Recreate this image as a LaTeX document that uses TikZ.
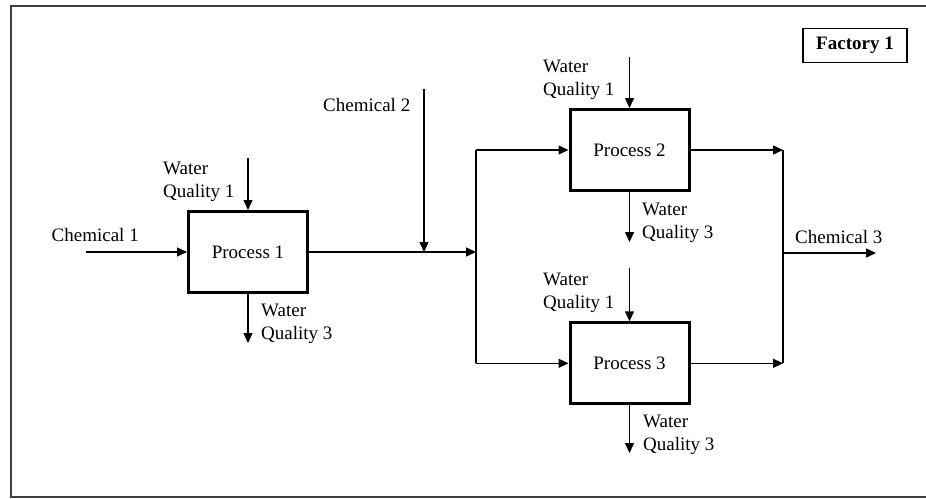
\documentclass[tikz,border=0pt]{standalone}
\usepackage{fontspec}
\setmainfont{Liberation Serif}
\usetikzlibrary{arrows.meta}
\tikzset{
  flow/.style={line width=1.4pt, -{Triangle[length=10pt,width=9pt]}},
  wire/.style={line width=1.4pt},
  procbox/.style={draw, line width=3pt, minimum width=119pt, minimum height=81pt, inner sep=0pt},
  lbl/.style={inner sep=0pt, anchor=west, align=left, font=\fontsize{19}{23}\selectfont},
}
\begin{document}
\begin{tikzpicture}[x=1pt, y=-1pt]
  \useasboundingbox (0,0) rectangle (926,498);
  % outer frame (right edge runs off the page)
  \draw[line width=2pt, black!75] (930,5.5) -- (11,5.5) -- (11,497) -- (930,497);

  % title box
  \node[draw, line width=1.4pt, minimum width=104pt, minimum height=34pt, inner sep=0pt,
        font=\fontsize{19}{22}\selectfont\bfseries] (title) at (855,45.5) {Factory 1};

  % process boxes
  \node[procbox, font=\fontsize{19}{23}\selectfont] (p1) at (248,252) {Process 1};
  \node[procbox, font=\fontsize{19}{23}\selectfont] (p2) at (629.5,150) {Process 2};
  \node[procbox, font=\fontsize{19}{23}\selectfont] (p3) at (629.5,363.3) {Process 3};

  % free ends and junctions
  \coordinate (c1) at (86,252);
  \coordinate (w1a) at (248,158);
  \coordinate (w3a) at (248,343);
  \coordinate (c2) at (424,89);
  \coordinate (mix) at (424,252);
  \coordinate (j1) at (476,252);
  \coordinate (jt) at (476,150);
  \coordinate (jb) at (476,363.3);
  \coordinate (w1b) at (629.5,57);
  \coordinate (w3b) at (629.5,242);
  \coordinate (w1c) at (629.5,268);
  \coordinate (w3c) at (629.5,453);
  \coordinate (kt) at (783,150);
  \coordinate (kb) at (783,363.3);
  \coordinate (km) at (783,253);
  \coordinate (c3) at (876,253);

  % labels
  \node[lbl] (lc1) at (51.5,235) {Chemical 1};
  \node[lbl] (lw1a) at (163,181.5) {Water\\Quality 1};
  \node[lbl] (lw3a) at (261,324) {Water\\Quality 3};
  \node[lbl] (lc2) at (323,105) {Chemical 2};
  \node[lbl] (lw1b) at (543,80) {Water\\Quality 1};
  \node[lbl] (lw3b) at (642,222.5) {Water\\Quality 3};
  \node[lbl] (lw1c) at (543,292.5) {Water\\Quality 1};
  \node[lbl] (lw3c) at (643,435) {Water\\Quality 3};
  \node[lbl] (lc3) at (795,236.5) {Chemical 3};

  % Process 1
  \draw[flow] (c1) -- (p1);
  \draw[flow] (w1a) -- (p1.north);
  \draw[flow] (p1.south) -- (w3a);
  \draw[flow] (p1.east) -- (j1);
  \draw[flow] (c2) -- (mix);

  % split to the parallel processes
  \draw[wire] (jt) -- (jb);
  \draw[flow] (jt) -- (p2.west);
  \draw[flow] (jb) -- (p3.west);

  % Process 2 and 3
  \draw[flow] (w1b) -- (p2.north);
  \draw[flow] (p2.south) -- (w3b);
  \draw[flow] (w1c) -- (p3.north);
  \draw[flow] (p3.south) -- (w3c);

  % merge
  \draw[flow] (p2.east) -- (kt);
  \draw[flow] (p3.east) -- (kb);
  \draw[wire] (kt) -- (kb);
  \draw[flow] (km) -- (c3);
\end{tikzpicture}
\end{document}
